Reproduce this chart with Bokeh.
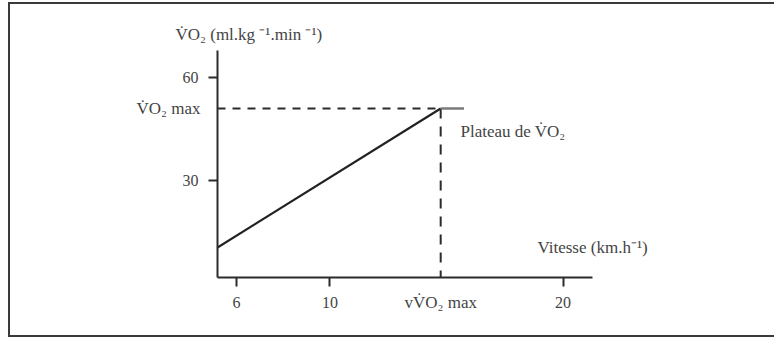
from bokeh.plotting import figure
from bokeh.models import Range1d, FixedTicker, LinearAxis
from bokeh.embed import file_html
from bokeh.resources import INLINE

# data
speed_line = [5.18, 14.75]
vo2_line = [10.3, 51.0]
plateau_speed = [14.75, 15.75]
plateau_vo2 = [51.0, 51.0]
vvo2max = 14.75
vo2max = 51.0
x_ticks = [6, 10, 20]
y_ticks = [30, 60]
x_start, x_end = 5.18, 21.26
y_start, y_end = 1.5, 68.0
vitesse_y = 10.3
plateau_label_y = 44.4

FONT = "Liberation Serif"
INK = "#2b2b2b"
TXT = "#444444"

p = figure(width=766, height=335, output_backend="svg", toolbar_location=None,
           x_range=Range1d(x_start, x_end), y_range=Range1d(y_start, y_end),
           min_border_left=207, min_border_right=184, min_border_top=46, min_border_bottom=62)
p.margin = (2, 0, 0, 8)
p.styles = {"border-left": "2px solid #3a3a3a", "border-top": "2px solid #3a3a3a",
            "border-bottom": "2px solid #3a3a3a"}
p.outline_line_color = None
p.xgrid.visible = False
p.ygrid.visible = False

p.title.text = "V\u0307O\u2082 (ml.kg \u207b\u00b9.min \u207b\u00b9)"
p.title.align = "left"
p.title.offset = -42
p.title.text_font = FONT
p.title.text_font_size = "17px"
p.title.text_font_style = "normal"
p.title.text_color = TXT
p.title.standoff = 13

for ax in (p.xaxis[0], p.yaxis[0]):
    ax.axis_line_color = INK
    ax.axis_line_width = 2
    ax.major_tick_line_color = INK
    ax.major_tick_line_width = 2
    ax.major_tick_in = 0
    ax.major_tick_out = 9
    ax.minor_tick_line_color = None
    ax.major_label_text_font = FONT
    ax.major_label_text_font_size = "16px"
    ax.major_label_text_color = TXT
p.xaxis[0].ticker = FixedTicker(ticks=x_ticks)
p.yaxis[0].ticker = FixedTicker(ticks=y_ticks)
p.xaxis[0].major_label_standoff = 10
p.yaxis[0].major_label_standoff = 10


def label_axis(ticks, overrides, standoff):
    a = LinearAxis(ticker=FixedTicker(ticks=ticks), major_label_overrides=overrides)
    a.axis_line_color = None
    a.major_tick_line_color = None
    a.minor_tick_line_color = None
    a.major_tick_in = 0
    a.major_tick_out = 0
    a.major_label_standoff = standoff
    a.major_label_text_font = FONT
    a.major_label_text_font_size = "17px"
    a.major_label_text_color = TXT
    return a


# V̇O2 max label on the y axis (no tick mark)
p.add_layout(label_axis([vo2max], {vo2max: "V\u0307O\u2082 max"}, -21), "left")
# vV̇O2 max label on the x axis (no tick mark)
p.add_layout(label_axis([vvo2max], {vvo2max: "vV\u0307O\u2082 max"}, -18), "below")
# axis name for speed and plateau label, placed through right axes
p.add_layout(label_axis([vitesse_y], {vitesse_y: "Vitesse (km.h\u207b\u00b9)"}, -55), "right")
p.add_layout(label_axis([plateau_label_y], {plateau_label_y: "Plateau de V\u0307O\u2082"}, -190), "right")

# dashed reference lines
p.line([x_start, vvo2max], [vo2max, vo2max], line_color=INK, line_width=2, line_dash="8 7")
p.line([vvo2max, vvo2max], [vo2max, y_start], line_color=INK, line_width=2, line_dash="10 8")
# main line
p.line(speed_line, vo2_line, line_color="#222222", line_width=2.2)
# plateau
p.line(plateau_speed, plateau_vo2, line_color="#7a7a7a", line_width=2.5)

open("out.html", "w").write(file_html(p, INLINE))
